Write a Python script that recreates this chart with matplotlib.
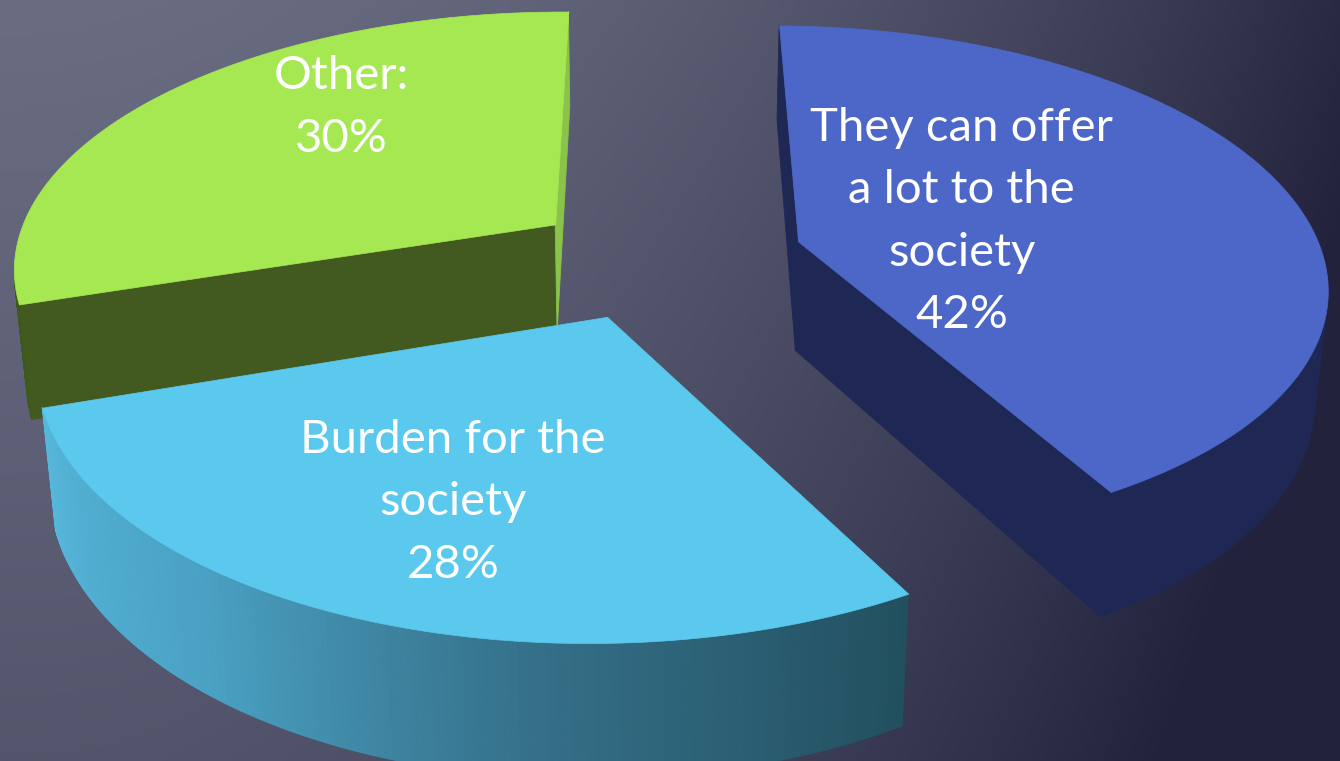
import numpy as np
import matplotlib.pyplot as plt
from matplotlib.collections import PolyCollection
from matplotlib.colors import LinearSegmentedColormap, to_rgb

# chart data
labels = ['They can offer\na lot to the\nsociety', 'Burden for the\nsociety', 'Other:']
shares = [42, 28, 30]
top_colors = ['#4c67c7', '#5bc9ee', '#a6e852']
explode = [0.28, 0.235, 0.235]

# label placement inside each slice (fraction of radius, turn from mid angle)
label_r = [0.33, 0.655, 0.68]
label_turn = [0, 0, -12.6]

W, H = 1340, 761

# simple perspective camera for the 3d look
ELEV = np.radians(28.5)
PERSP = 0.155
YAW = 0.012
FOCAL = 535
CX, CY = 655, 259
THICK = 0.235
_dist = np.cos(ELEV) / PERSP
cam = np.array([-YAW * _dist, -_dist * np.cos(ELEV), _dist * np.sin(ELEV)])


def project(x, y, z):
    s, c = np.sin(ELEV), np.cos(ELEV)
    d = 1 + PERSP * y + YAW * x
    # lower points sit a little further away, so verticals lean inwards
    dx = d - z * s * PERSP / c
    return CX + FOCAL * x / dx, CY - FOCAL * (y * s + z * c) / d


def facing(normal, point):
    return np.dot(normal, cam - point) > 0


def quad(p_list):
    xs, ys = project(*np.array(p_list).T)
    return np.column_stack([xs, ys])


fig = plt.figure(figsize=(W / 100, H / 100), dpi=100)
ax = fig.add_axes([0, 0, 1, 1])
ax.set_xlim(0, W)
ax.set_ylim(H, 0)
ax.axis('off')

# background gradient, light grey-blue top left to dark navy bottom right
gx, gy = np.meshgrid(np.linspace(0, 1, 400), np.linspace(0, 1, 230))
t = np.clip(0.9 * gx ** 2.0 + 0.32 * gy, 0, 1)[..., None]
light = np.array(to_rgb('#6a6d82'))
dark = np.array(to_rgb('#22223d'))
ax.imshow(light * (1 - t) + dark * t, extent=(0, W, H, 0), aspect='auto', zorder=0)

wall_cmap = {
    0: None,
    1: LinearSegmentedColormap.from_list('cy', ['#22505f', '#356f88', '#4aa2c4', '#56b8dc']),
    2: None,
}
wall_colors = ['#1f2854', None, '#3d5a1c']
cut_colors = [('#1f2854', '#1f2854'), ('#2e6e85', '#2e6e85'), ('#425a20', '#8bc34a')]

fracs = np.array(shares) / sum(shares)
starts = 90 - 360 * np.concatenate([[0], np.cumsum(fracs)[:-1]])
ends = starts - 360 * fracs

slices = []
for i in range(len(shares)):
    a0, a1 = starts[i], ends[i]
    mid = np.radians((a0 + a1) / 2)
    off = explode[i] * np.array([np.cos(mid), np.sin(mid), 0])
    slices.append((i, a0, a1, off))

# paint back to front
slices.sort(key=lambda s: -s[3][1])

for i, a0, a1, off in slices:
    th = np.radians(np.linspace(a0, a1, 240))
    rim = np.column_stack([np.cos(th), np.sin(th), np.zeros_like(th)]) + off
    rim_bot = rim - [0, 0, THICK]
    apex_bot = off - [0, 0, THICK]

    polys, cols = [], []
    # radial cut faces
    for ang, side, col in ((a0, 1, cut_colors[i][0]), (a1, -1, cut_colors[i][1])):
        r = np.radians(ang)
        edge = off + [np.cos(r), np.sin(r), 0]
        n = np.array([np.cos(r + side * np.pi / 2), np.sin(r + side * np.pi / 2), 0])
        if facing(n, (off + edge) / 2 - [0, 0, THICK / 2]):
            polys.append(quad([off, edge, edge - [0, 0, THICK], apex_bot]))
            cols.append(col)
    # outer curved wall
    for j in range(len(th) - 1):
        tm = (th[j] + th[j + 1]) / 2
        n = np.array([np.cos(tm), np.sin(tm), 0])
        if facing(n, (rim[j] + rim[j + 1]) / 2):
            polys.append(quad([rim[j], rim[j + 1], rim_bot[j + 1], rim_bot[j]]))
            if wall_cmap[i] is not None:
                cols.append(wall_cmap[i]((th[j] - th[0]) / (th[-1] - th[0])))
            else:
                cols.append(wall_colors[i])
    if polys:
        ax.add_collection(PolyCollection(polys, facecolors=cols, edgecolors=cols,
                                         linewidths=0.6, zorder=2))
    top = quad(np.vstack([off, rim]))
    ax.add_collection(PolyCollection([top], facecolors=top_colors[i],
                                     edgecolors=top_colors[i], linewidths=0.5, zorder=2))

    # label with percentage
    la = np.radians((a0 + a1) / 2 + label_turn[i])
    lp = off + label_r[i] * np.array([np.cos(la), np.sin(la), 0])
    lx, ly = project(*lp)
    ax.text(lx, ly, f'{labels[i]}\n{shares[i]}%', ha='center', va='center',
            multialignment='center', color='white', fontsize=34,
            family=['Lato', 'DejaVu Sans'], linespacing=1.6, zorder=3)

fig.savefig('out.png', dpi=100)
